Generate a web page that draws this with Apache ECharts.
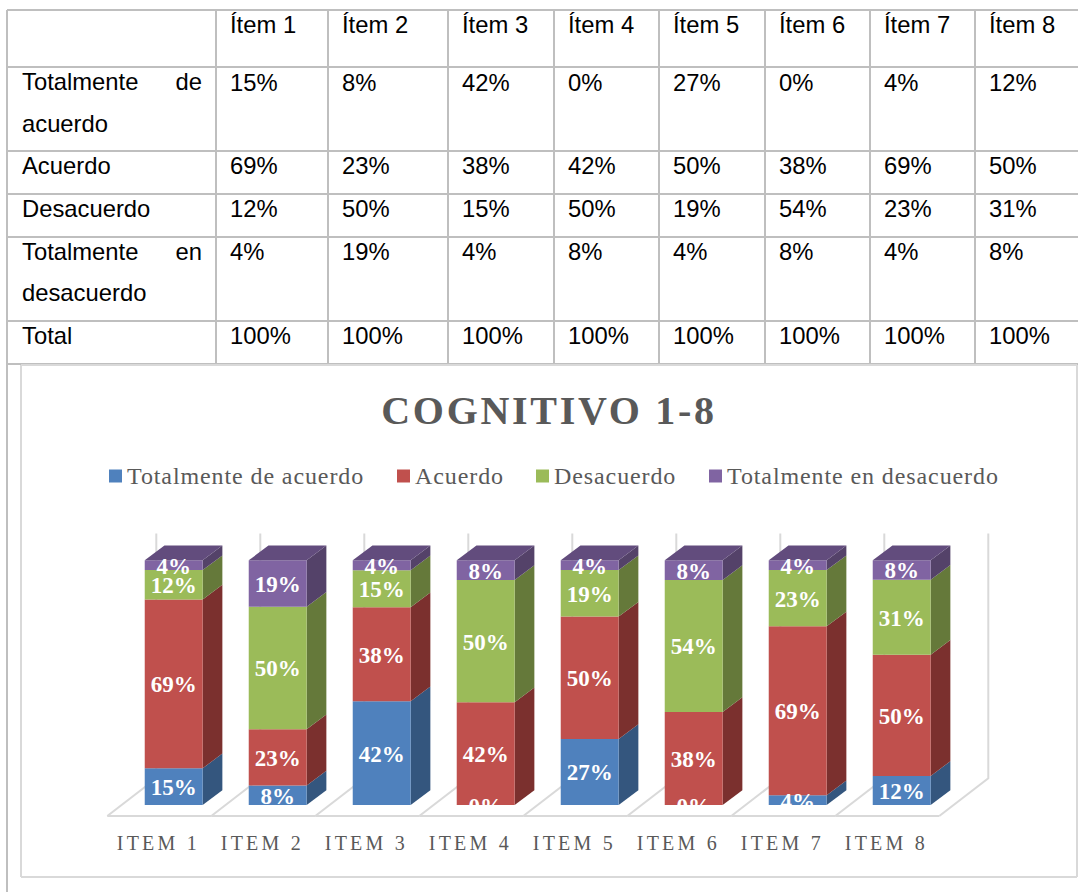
<!DOCTYPE html>
<html lang="es">
<head>
    <meta charset="UTF-8">
    <title>Cognitivo 1-8</title>
    <script src="https://cdn.jsdelivr.net/npm/echarts@6/dist/echarts.min.js"></script>
    <style>
        html, body { margin: 0; padding: 0; background: #fff; }
        #main { width: 1078px; height: 892px; }
        /* zrender has no letter spacing, the svg renderer lets css do it */
        #main text[style*="40px"] { letter-spacing: 2.7px; }
        #main text[style*="24px"] { letter-spacing: 0.9px; }
        #main text[style*="20px"] { letter-spacing: 3.2px; }
    </style>
</head>
<body>
<div id="main"></div>
<script>
    // datos
    var tableHeader = ['Ítem 1', 'Ítem 2', 'Ítem 3', 'Ítem 4', 'Ítem 5', 'Ítem 6', 'Ítem 7', 'Ítem 8'];
    var axisLabels = ['ITEM 1', 'ITEM 2', 'ITEM 3', 'ITEM 4', 'ITEM 5', 'ITEM 6', 'ITEM 7', 'ITEM 8'];
    var totalmenteAcuerdo = [15, 8, 42, 0, 27, 0, 4, 12];
    var acuerdo = [69, 23, 38, 42, 50, 38, 69, 50];
    var desacuerdo = [12, 50, 15, 50, 19, 54, 23, 31];
    var totalmenteDesacuerdo = [4, 19, 4, 8, 4, 8, 4, 8];
    var totals = [100, 100, 100, 100, 100, 100, 100, 100];
    var seriesNames = ['Totalmente de acuerdo', 'Acuerdo', 'Desacuerdo', 'Totalmente en desacuerdo'];
    var seriesValues = [totalmenteAcuerdo, acuerdo, desacuerdo, totalmenteDesacuerdo];

    // colores
    var frontColors = ['#4f81bd', '#c0504d', '#9bbb59', '#8064a2'];
    var sideColors = ['#34567e', '#7b302e', '#65793a', '#544269'];
    var topColor = '#624c7d';
    var tableLine = '#bfbfbf';
    var chartLine = '#d9d9d9';
    var labelGrey = '#595959';
    var serifFont = '"Liberation Serif", serif';
    var sansFont = '"Liberation Sans", sans-serif';

    // tabla
    var tableCols = [7, 216, 328, 448, 554, 659, 765, 870, 975];
    var tableRows = [10, 67, 151, 194, 237, 321, 364];
    var elements = [];

    function hLine(x1, x2, y, color) {
        return { type: 'line', silent: true, shape: { x1: x1, y1: y, x2: x2, y2: y }, style: { stroke: color, lineWidth: 2 } };
    }
    function vLine(x, y1, y2, color) {
        return { type: 'line', silent: true, shape: { x1: x, y1: y1, x2: x, y2: y2 }, style: { stroke: color, lineWidth: 2 } };
    }
    function cellText(text, x, y, align) {
        return {
            type: 'text', silent: true, x: x, y: y,
            style: { text: text, x: 0, y: 0, fill: '#000', font: '23.8px ' + sansFont, align: align || 'left', verticalAlign: 'middle' }
        };
    }

    tableRows.forEach(function (y) { elements.push(hLine(7, 1078, y, tableLine)); });
    tableCols.forEach(function (x, i) { elements.push(vLine(x, 10, i === 0 ? 892 : 364, tableLine)); });

    // marco del grafico
    elements.push(hLine(21, 1077, 365, chartLine), hLine(21, 1077, 877, chartLine));
    elements.push(vLine(21, 365, 877, chartLine), vLine(1077, 365, 877, chartLine));

    var rowTextY = [82, 165, 208, 251, 335];
    var headerY = 24;
    elements.push(cellText('Totalmente', 22, 81), cellText('de', 202, 81, 'right'), cellText('acuerdo', 22, 123));
    elements.push(cellText('Acuerdo', 22, 165), cellText('Desacuerdo', 22, 208));
    elements.push(cellText('Totalmente', 22, 251), cellText('en', 202, 251, 'right'), cellText('desacuerdo', 22, 292));
    elements.push(cellText('Total', 22, 335));
    tableHeader.forEach(function (h, c) {
        var x = tableCols[c + 1] + 14;
        elements.push(cellText(h, x, headerY));
        seriesValues.forEach(function (vals, r) {
            elements.push(cellText(vals[c] + '%', x, rowTextY[r]));
        });
        elements.push(cellText(totals[c] + '%', x, rowTextY[4]));
    });

    // proyeccion 3D
    var barRatio = 0.557;
    var barShift = 15.4;
    var depthX = 19.7, depthY = 14.7;
    var floorShift = 1, floorX = 49, floorFront = 11, floorBack = 26.7;

    function renderFloor(params, api) {
        var i = api.value(0);
        var base = api.coord([i, 0]);
        var topY = api.coord([i, 100])[1];
        var band = api.size([1, 0])[0];
        var cx = base[0] + floorShift;
        var lineStyle = { stroke: chartLine, lineWidth: 2, fill: null };
        var children = [];
        function bound(x) {
            children.push({
                type: 'polyline', silent: true,
                shape: { points: [[x, base[1] + floorFront], [x + floorX, base[1] - floorBack], [x + floorX, topY - floorBack]] },
                style: lineStyle
            });
        }
        bound(cx - band / 2);
        if (i === axisLabels.length - 1) bound(cx + band / 2);
        children.push({
            type: 'line', silent: true,
            shape: { x1: cx - band / 2, y1: base[1] + floorFront, x2: cx + band / 2, y2: base[1] + floorFront },
            style: lineStyle
        });
        return { type: 'group', children: children };
    }

    function makeRender(s) {
        return function (params, api) {
            var i = api.value(0);
            var low = api.coord([i, api.value(1)]);
            var up = api.coord([i, api.value(2)]);
            var zero = api.coord([i, 0]);
            var width = api.size([1, 0])[0] * barRatio;
            var xl = low[0] + barShift - width / 2;
            var xr = xl + width;
            var children = [
                {
                    type: 'polygon', silent: true,
                    shape: { points: [[xr, low[1]], [xr, up[1]], [xr + depthX, up[1] - depthY], [xr + depthX, low[1] - depthY]] },
                    style: { fill: sideColors[s] }
                },
                {
                    type: 'rect', silent: true,
                    shape: { x: xl, y: up[1], width: width, height: low[1] - up[1] },
                    style: { fill: frontColors[s] }
                }
            ];
            if (s === seriesNames.length - 1) {
                children.push({
                    type: 'polygon', silent: true,
                    shape: { points: [[xl, up[1]], [xr, up[1]], [xr + depthX, up[1] - depthY], [xl + depthX, up[1] - depthY]] },
                    style: { fill: topColor }
                });
            }
            children.push({
                type: 'text', silent: true, z2: 100,
                style: {
                    text: api.value(3) + '%', x: xl + width / 2, y: (low[1] + up[1]) / 2 + 1,
                    fill: '#fff', font: 'bold 23px ' + serifFont, align: 'center', verticalAlign: 'middle'
                },
                clipPath: { type: 'rect', shape: { x: xl - 10, y: 0, width: width + 20, height: zero[1] } }
            });
            return { type: 'group', children: children };
        };
    }

    // 100% apilado: cada columna se normaliza a su propia suma
    function stackedData(s) {
        return axisLabels.map(function (_, c) {
            var sum = 0, before = 0;
            seriesValues.forEach(function (vals, k) {
                sum += vals[c];
                if (k < s) before += vals[c];
            });
            return [c, before / sum * 100, (before + seriesValues[s][c]) / sum * 100, seriesValues[s][c]];
        });
    }

    var series = [{
        type: 'custom',
        silent: true,
        renderItem: renderFloor,
        data: axisLabels.map(function (_, c) { return [c]; }),
        encode: { x: 0 },
        clip: false
    }];
    seriesNames.forEach(function (name, s) {
        series.push({
            type: 'custom',
            name: name,
            silent: true,
            renderItem: makeRender(s),
            itemStyle: { color: frontColors[s] },
            data: stackedData(s),
            encode: { x: 0, y: [1, 2] },
            clip: false
        });
    });

    var legendLeft = [104, 392, 531, 704];
    var legends = seriesNames.map(function (name, s) {
        return {
            data: [name], left: legendLeft[s], top: 459, orient: 'horizontal',
            icon: 'rect', itemWidth: 13, itemHeight: 13, itemGap: 5, selectedMode: false,
            textStyle: { color: labelGrey, fontSize: 24, fontFamily: serifFont, padding: [0, 0, 0, 0] }
        };
    });

    var myChart = echarts.init(document.getElementById('main'), null, { renderer: 'svg' });
    myChart.setOption({
        animation: false,
        backgroundColor: '#fff',
        title: {
            text: 'COGNITIVO 1-8',
            left: 544,
            textAlign: 'center',
            top: 385,
            textStyle: { color: labelGrey, fontSize: 40, fontWeight: 'bold', fontFamily: serifFont }
        },
        legend: legends,
        grid: { left: 106.3, right: 139.7, top: 560.3, bottom: 87 },
        xAxis: {
            type: 'category',
            data: axisLabels,
            axisLine: { show: false },
            axisTick: { show: false },
            axisLabel: { margin: 28, color: labelGrey, fontSize: 20, fontFamily: serifFont, interval: 0 }
        },
        yAxis: { type: 'value', min: 0, max: 100, show: false },
        graphic: { elements: elements },
        series: series
    });
</script>
</body>
</html>
